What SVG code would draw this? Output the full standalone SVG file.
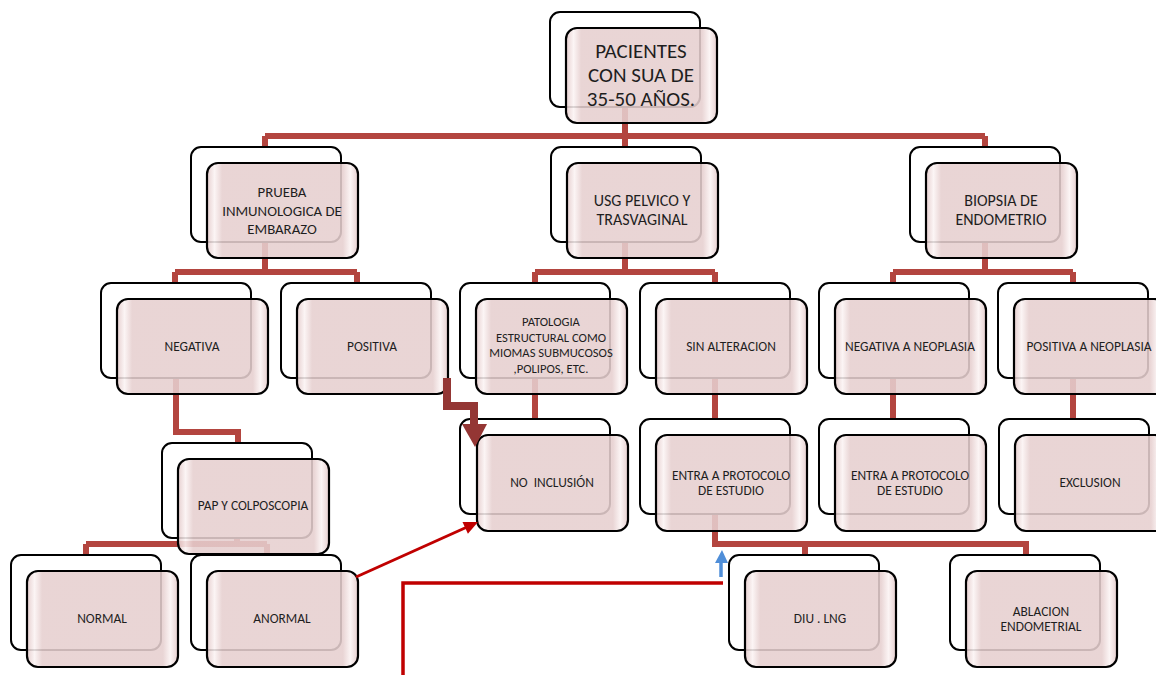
<svg xmlns="http://www.w3.org/2000/svg" width="1156" height="675" viewBox="0 0 1156 675">
<style>
.back{fill:#fff;stroke:#000;stroke-width:2}
.front{fill:url(#g);stroke:#000;stroke-width:2.2;fill-opacity:0.88}
.t{font-family:Carlito,Lato,"Liberation Sans",sans-serif;fill:#1e1e1e;text-anchor:middle;font-size:13.4px}
.t13{font-size:16px}
.t15{font-size:14.8px}
.t19{font-size:21px}
.tp{font-size:12.6px}
.c{fill:none;stroke:#B3453F;stroke-width:6}
</style>
<defs>
<linearGradient id="g" x1="0" y1="0" x2="1" y2="0">
<stop offset="0" stop-color="#e3c9c9"/>
<stop offset="0.05" stop-color="#fbf3f3"/>
<stop offset="0.1" stop-color="#e6cfcf"/>
<stop offset="0.9" stop-color="#e6cfcf"/>
<stop offset="0.95" stop-color="#fbf3f3"/>
<stop offset="1" stop-color="#e3c9c9"/>
</linearGradient>
</defs>
<g id="connectors">
<path class="c" d="M625 107V136M265 136H985M265 136V147M625 136V147M985 136V147"/>
<path class="c" d="M265 242V272M175 272H357M175 272V283M357 272V283"/>
<path class="c" d="M625 242V272M535 272H715M535 272V283M715 272V283"/>
<path class="c" d="M985 242V272M893 272H1073M893 272V283M1073 272V283"/>
<path class="c" d="M176 378V432H238V443"/>
<path class="c" d="M535 378V419M715 378V419M893 378V419M1073 378V419"/>
<path class="c" d="M237 538V544M86 544H267M86 544V555M267 544V555"/>
<path class="c" d="M715 515V544H1026V555M805 544V555"/>
</g>
<g id="n_top" transform="translate(550,12)"><rect class="back" width="150" height="95" rx="10"/><rect class="front" x="16" y="16" width="151" height="95" rx="11"/>
<text class="t t19" x="91" y="46">PACIENTES</text><text class="t t19" x="91" y="70">CON SUA DE</text><text class="t t19" x="91" y="94">35-50 AÑOS.</text></g>
<g id="n_prueba" transform="translate(191,147)"><rect class="back" width="150" height="95" rx="10"/><rect class="front" x="16" y="16" width="151" height="95" rx="11"/>
<text class="t t15" x="91" y="50">PRUEBA</text><text class="t t15" x="91" y="68.5">INMUNOLOGICA DE</text><text class="t t15" x="91" y="87">EMBARAZO</text></g>
<g id="n_usg" transform="translate(551,147)"><rect class="back" width="150" height="95" rx="10"/><rect class="front" x="16" y="16" width="151" height="95" rx="11"/>
<text class="t t13" x="91" y="59">USG PELVICO Y</text><text class="t t13" x="91" y="78">TRASVAGINAL</text></g>
<g id="n_biopsia" transform="translate(910,147)"><rect class="back" width="150" height="95" rx="10"/><rect class="front" x="16" y="16" width="151" height="95" rx="11"/>
<text class="t t13" x="91" y="59">BIOPSIA DE</text><text class="t t13" x="91" y="78">ENDOMETRIO</text></g>
<g id="n_negativa" transform="translate(101,283)"><rect class="back" width="150" height="95" rx="10"/><rect class="front" x="16" y="16" width="151" height="95" rx="11"/>
<text class="t" x="91" y="68">NEGATIVA</text></g>
<g id="n_positiva" transform="translate(281,283)"><rect class="back" width="150" height="95" rx="10"/><rect class="front" x="16" y="16" width="151" height="95" rx="11"/>
<text class="t" x="91" y="68">POSITIVA</text></g>
<g id="n_patologia" transform="translate(460,283)"><rect class="back" width="150" height="95" rx="10"/><rect class="front" x="16" y="16" width="151" height="95" rx="11"/>
<text class="t tp" x="91" y="43">PATOLOGIA</text><text class="t tp" x="91" y="58.5">ESTRUCTURAL COMO</text><text class="t tp" x="91" y="74">MIOMAS SUBMUCOSOS</text><text class="t tp" x="91" y="89.5">,POLIPOS, ETC.</text></g>
<g id="n_sinalt" transform="translate(640,283)"><rect class="back" width="150" height="95" rx="10"/><rect class="front" x="16" y="16" width="151" height="95" rx="11"/>
<text class="t" x="91" y="68">SIN ALTERACION</text></g>
<g id="n_negneo" transform="translate(819,283)"><rect class="back" width="150" height="95" rx="10"/><rect class="front" x="16" y="16" width="151" height="95" rx="11"/>
<text class="t" x="91" y="68">NEGATIVA A NEOPLASIA</text></g>
<g id="n_posneo" transform="translate(998,283)"><rect class="back" width="150" height="95" rx="10"/><rect class="front" x="16" y="16" width="151" height="95" rx="11"/>
<text class="t" x="91" y="68">POSITIVA A NEOPLASIA</text></g>
<g id="n_pap" transform="translate(162,443)"><rect class="back" width="150" height="95" rx="10"/><rect class="front" x="16" y="16" width="151" height="95" rx="11"/>
<text class="t" x="91" y="67">PAP Y COLPOSCOPIA</text></g>
<g id="n_noincl" transform="translate(460,419)"><rect class="back" width="150" height="95" rx="10"/><rect class="front" x="17" y="16" width="151" height="96" rx="11"/>
<text class="t" x="92" y="68" xml:space="preserve">NO  INCLUSIÓN</text></g>
<g id="n_entra1" transform="translate(640,419)"><rect class="back" width="150" height="95" rx="10"/><rect class="front" x="16" y="16" width="151" height="96" rx="11"/>
<text class="t" x="91" y="61">ENTRA A PROTOCOLO</text><text class="t" x="91" y="76">DE ESTUDIO</text></g>
<g id="n_entra2" transform="translate(819,419)"><rect class="back" width="150" height="95" rx="10"/><rect class="front" x="16" y="16" width="151" height="96" rx="11"/>
<text class="t" x="91" y="61">ENTRA A PROTOCOLO</text><text class="t" x="91" y="76">DE ESTUDIO</text></g>
<g id="n_exclusion" transform="translate(999,419)"><rect class="back" width="150" height="95" rx="10"/><rect class="front" x="16" y="16" width="151" height="96" rx="11"/>
<text class="t" x="91" y="68">EXCLUSION</text></g>
<g id="n_normal" transform="translate(11,555)"><rect class="back" width="150" height="95" rx="10"/><rect class="front" x="16" y="16" width="151" height="96" rx="11"/>
<text class="t" x="91" y="68">NORMAL</text></g>
<g id="n_anormal" transform="translate(191,555)"><rect class="back" width="150" height="95" rx="10"/><rect class="front" x="16" y="16" width="151" height="96" rx="11"/>
<text class="t" x="91" y="68">ANORMAL</text></g>
<g id="n_diu" transform="translate(729,555)"><rect class="back" width="150" height="95" rx="10"/><rect class="front" x="16" y="16" width="151" height="96" rx="11"/>
<text class="t" x="91" y="68">DIU . LNG</text></g>
<g id="n_ablacion" transform="translate(950,555)"><rect class="back" width="150" height="95" rx="10"/><rect class="front" x="16" y="16" width="151" height="96" rx="11"/>
<text class="t" x="91" y="61">ABLACION</text><text class="t" x="91" y="76">ENDOMETRIAL</text></g>
<g id="extra_arrows">
<path d="M447 378V406H474V426" fill="none" stroke="#943634" stroke-width="8"/>
<path d="M462 424H487L475 447Z" fill="#943634"/>
<line x1="356" y1="577" x2="466" y2="527.5" stroke="#C00000" stroke-width="3"/>
<path d="M478 522L467.9 533.7L462.5 521.9Z" fill="#C00000"/>
<polyline points="403,675 403,583 723,583" fill="none" stroke="#C00000" stroke-width="3.5"/>
<line x1="721" y1="577" x2="721" y2="561" stroke="#4F8ED8" stroke-width="3.5"/>
<path d="M722 550L728 563H715Z" fill="#4F8ED8"/>
</g>
</svg>
